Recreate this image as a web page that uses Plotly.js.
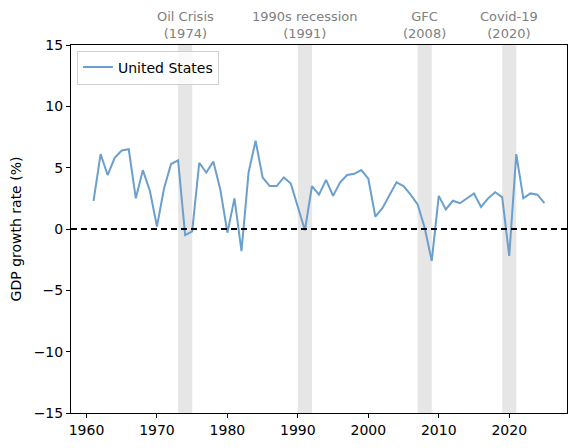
<!DOCTYPE html>
<html>
<head>
<meta charset="utf-8">
<script src="https://cdn.plot.ly/plotly-3.0.1.min.js"></script>
<style>html,body{margin:0;padding:0;background:#fff;}#chart{width:575px;height:448px;}</style>
</head>
<body>
<div id="chart"></div>
<script>
const years = [1961,1962,1963,1964,1965,1966,1967,1968,1969,1970,1971,1972,1973,1974,1975,1976,1977,1978,1979,1980,1981,1982,1983,1984,1985,1986,1987,1988,1989,1990,1991,1992,1993,1994,1995,1996,1997,1998,1999,2000,2001,2002,2003,2004,2005,2006,2007,2008,2009,2010,2011,2012,2013,2014,2015,2016,2017,2018,2019,2020,2021,2022,2023,2024,2025];
const growth = [2.3,6.1,4.4,5.8,6.4,6.5,2.5,4.8,3.1,0.2,3.3,5.3,5.6,-0.5,-0.2,5.4,4.6,5.5,3.2,-0.3,2.5,-1.8,4.6,7.2,4.2,3.5,3.5,4.2,3.7,1.9,-0.1,3.5,2.8,4.0,2.7,3.8,4.4,4.5,4.8,4.1,1.0,1.7,2.8,3.8,3.5,2.8,2.0,0.1,-2.6,2.7,1.6,2.3,2.1,2.5,2.9,1.8,2.5,3.0,2.6,-2.2,6.1,2.5,2.9,2.8,2.1];
const crisisNames = ["Oil Crisis","1990s recession","GFC","Covid-19"];
const crisisYears = [1974,1991,2008,2020];
const crisisStart = [1973,1990,2007,2019];
const crisisEnd = [1975,1992,2009,2021];
const yTicks = [-15,-10,-5,0,5,10,15];
const xTicks = [1960,1970,1980,1990,2000,2010,2020];

const fmt = v => (v < 0 ? "\u2212" + Math.abs(v) : String(v));

const shapes = crisisStart.map((s, i) => ({
  type: "rect", xref: "x", yref: "paper", x0: s, x1: crisisEnd[i], y0: 0, y1: 1,
  fillcolor: "rgba(128,128,128,0.2)", line: {width: 0}, layer: "below"
}));
shapes.push({type: "line", xref: "paper", yref: "y", x0: 0, x1: 1, y0: 0, y1: 0,
  line: {color: "black", width: 1.8, dash: "6px,4px"}});

const annotations = crisisNames.map((n, i) => ({
  text: n + "<br>(" + crisisYears[i] + ")", x: crisisYears[i], xref: "x",
  y: 1.0, yref: "paper", yanchor: "bottom", yshift: 2, showarrow: false,
  font: {family: "DejaVu Sans", size: 13, color: "#808080"}, align: "center"
}));

Plotly.newPlot("chart", [{
  x: years, y: growth, type: "scatter", mode: "lines", name: "United States",
  line: {color: "#6b9fcd", width: 2}
}], {
  width: 575, height: 448,
  margin: {l: 71, r: 8, t: 45, b: 35},
  paper_bgcolor: "white", plot_bgcolor: "white",
  font: {family: "DejaVu Sans", size: 14, color: "black"},
  showlegend: true,
  legend: {x: 0.012, y: 0.985, xanchor: "left", yanchor: "top",
    bgcolor: "rgba(255,255,255,0.8)", bordercolor: "#d0d0d0", borderwidth: 1,
    font: {size: 14}, tracegroupgap: 0},
  xaxis: {range: [1957.8, 2028.2], tickvals: xTicks, ticktext: xTicks.map(String),
    showgrid: false, zeroline: false, showline: true, linecolor: "black", linewidth: 1,
    mirror: true, ticks: "outside", ticklen: 4, tickwidth: 1, tickcolor: "black",
    tickfont: {size: 14}},
  yaxis: {range: [-15, 15], tickvals: yTicks, ticktext: yTicks.map(fmt),
    showgrid: false, zeroline: false, showline: true, linecolor: "black", linewidth: 1,
    mirror: true, ticks: "outside", ticklen: 4, tickwidth: 1, tickcolor: "black",
    tickfont: {size: 14},
    title: {text: "GDP growth rate (%)", font: {size: 14}, standoff: 8}},
  shapes: shapes,
  annotations: annotations
}, {displayModeBar: false, staticPlot: true});
</script>
</body>
</html>
